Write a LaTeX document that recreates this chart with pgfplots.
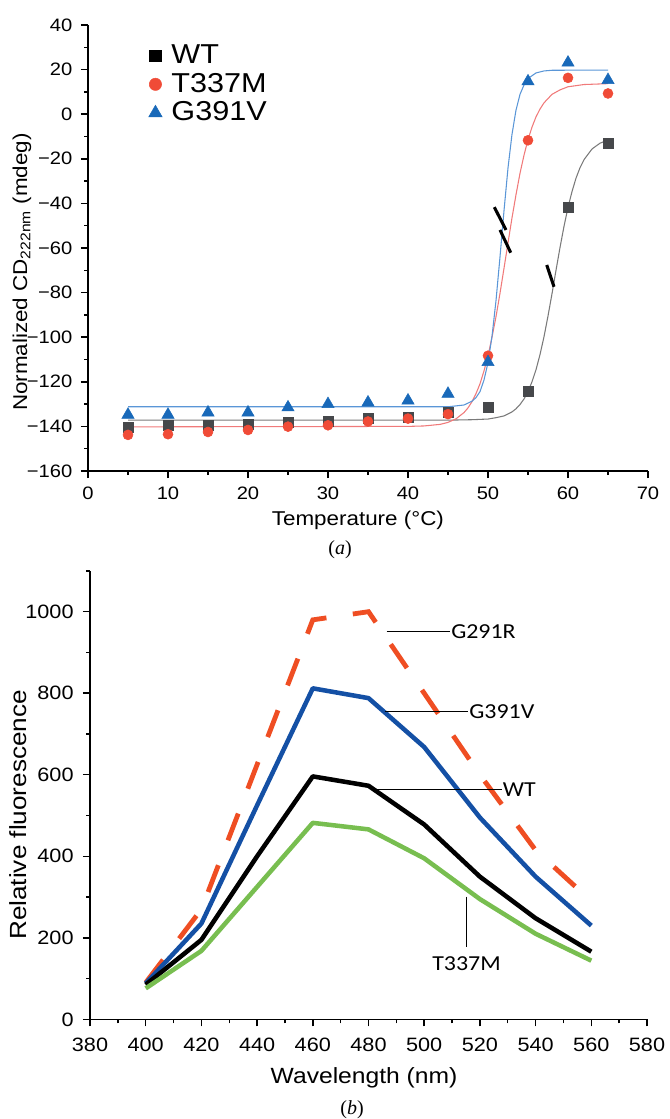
\documentclass[border=0pt]{standalone}
\usepackage{fontspec}
\setmainfont{Liberation Sans}[FakeStretch=1.12]
\newfontfamily\calibri{Carlito}[FakeStretch=1.12]
\newfontfamily\capserif{Liberation Serif}
\usepackage{pgfplots}
\pgfplotsset{compat=1.18}

\definecolor{wtmark}{HTML}{46484B}
\definecolor{wtline}{HTML}{7A7A7A}
\definecolor{tmark}{HTML}{F04B37}
\definecolor{tline}{HTML}{F07A7A}
\definecolor{gmark}{HTML}{1969B9}
\definecolor{gline}{HTML}{5A96D7}
\definecolor{fRed}{HTML}{EF4E23}
\definecolor{fBlue}{HTML}{1450A5}
\definecolor{fGreen}{HTML}{78BE50}

\pgfplotsset{
  panel/.style={
    scale only axis,
    axis lines=left,
    axis line style={-, line width=1.1pt},
    every tick/.style={black, line width=1.1pt},
    tick align=outside,
    major tick length=5.3pt,
    minor tick length=3pt,
    minor x tick num=1, minor y tick num=1,
    /pgf/number format/assume math mode=true,
    /pgf/number format/1000 sep={},
  },
}

\begin{document}
\begin{tikzpicture}
\useasboundingbox (0,0) rectangle (501.75pt,-839.25pt);

% ---------------- (a) CD melting curves ----------------
\begin{axis}[panel,
  at={(66pt,-353.25pt)}, anchor=south west,
  width=420pt, height=334.5pt,
  xmin=0, xmax=70, ymin=-160, ymax=40,
  xtick={0,10,...,70},
  ytick={-160,-140,...,40},
  yticklabels={−160,−140,−120,−100,−80,−60,−40,−20,0,20,40},
  tick label style={font=\fontsize{13.5}{15}\selectfont},
  xticklabel style={yshift=-3pt},
  yticklabel style={xshift=-3pt},
  xlabel={Temperature (°C)},
  ylabel={Normalized CD\textsubscript{222nm} (mdeg)},
  label style={font=\fontsize{15}{18}\selectfont},
  xlabel style={at={(axis description cs:0.482,-0.11)}, anchor=center},
  ylabel style={at={(axis description cs:-0.118,0.446)}, anchor=center},
  legend style={draw=none, fill=none, inner sep=0pt,
    at={(axis description cs:0.108,0.958)}, anchor=north west,
    font=\fontsize{20.5}{24}\selectfont,
    nodes={inner sep=0pt, text height=14.5pt, text depth=3pt},
    row sep=4pt, column sep=7pt},
  legend cell align=left,
  clip=false,
]
% fitted curves
\addplot[wtline, line width=0.8pt, forget plot] coordinates {
 (5,-137.2) (45,-137.2) (48,-137.0) (50,-136.7) (51,-136.1) (52,-135.3) (53,-133.5) (53.5,-132.1) (54,-130.2)
 (54.5,-127.7) (55,-124.4) (55.5,-120.0) (56,-114.6) (56.5,-107.8) (57,-99.8) (57.5,-90.5) (58,-80.5) (58.5,-70.0)
 (59,-59.8) (59.5,-50.3) (60,-41.8) (60.5,-34.7) (61,-28.7) (61.5,-24.0) (62,-20.4) (63,-15.6) (64,-13.0) (65,-11.6)};
\addplot[tline, line width=0.8pt, forget plot] coordinates {
 (5,-140.2) (40,-140.0) (42,-139.8) (44,-139.1) (45,-138.2) (46,-136.6) (47,-133.8)
 (47.5,-131.7) (48,-128.9) (48.5,-125.3) (49,-120.9) (49.5,-115.1) (50,-108.4) (50.5,-100.0) (51,-90.8) (51.5,-80.3) (52,-69.1)
 (52.5,-57.7) (53,-46.5) (53.5,-36.1) (54,-26.5) (54.5,-18.4) (55,-11.4) (55.5,-5.8) (56,-1.2) (56.5,2.3) (57,5.1)
 (58,8.9) (59,10.9) (60,12.3) (62,13.3) (65,13.7)};
\addplot[gline, line width=0.8pt, forget plot] coordinates {
 (5,-131.2) (45,-131.2) (47,-130.4) (48,-128.7) (48.5,-127.1) (49,-124.4) (49.5,-119.2) (50,-111.4)
 (50.5,-99.6) (51,-83.6) (51.5,-64.0) (52,-43.3) (52.5,-24.1) (53,-9.0)
 (53.5,1.8) (54,8.9) (54.5,13.1) (55,16.0) (56,18.5) (57,19.4) (58,19.7) (65,19.8)};
% measured points
\addplot[only marks, mark=square*, mark size=3.75pt, wtmark, forget plot] coordinates {
 (5,-140.5) (10,-139.6) (15,-139.3) (20,-139.0) (25,-138.3) (30,-137.5)
 (35,-136.5) (40,-136.0) (45,-133.8) (50,-131.2) (55,-124.4) (60,-41.7) (65,-13.2)};
\addplot[only marks, mark=*, mark size=3.75pt, tmark, forget plot] coordinates {
 (5,-143.8) (10,-143.5) (15,-142.5) (20,-141.6) (25,-140.1) (30,-139.5)
 (35,-137.8) (40,-136.5) (45,-134.5) (50,-108.3) (55,-11.7) (60,16.3) (65,9.3)};
\addplot[only marks, mark=triangle*, mark size=5.3pt, gmark, forget plot] coordinates {
 (5,-134.8) (10,-134.8) (15,-133.8) (20,-133.8) (25,-131.5) (30,-130.0)
 (35,-129.3) (40,-128.4) (45,-125.4) (50,-111.2) (55,14.7) (60,23.1) (65,15.3)};
% break marks
\draw[line width=2.3pt] (axis cs:50.79,-41.7) -- (axis cs:52.25,-51.9);
\draw[line width=2.3pt] (axis cs:51.5,-51.9) -- (axis cs:52.84,-62.1);
\draw[line width=2.3pt] (axis cs:57.34,-67.6) -- (axis cs:58.25,-77.4);
% legend
\addlegendimage{only marks, mark=square*, mark size=4.4pt, black}
\addlegendentry{WT}
\addlegendimage{only marks, mark=*, mark size=4.6pt, tmark}
\addlegendentry{T337M}
\addlegendimage{only marks, mark=triangle*, mark size=5.8pt, gmark}
\addlegendentry{G391V}
\end{axis}

% ---------------- (b) fluorescence spectra ----------------
\begin{axis}[panel,
  at={(67.5pt,-764.5pt)}, anchor=south west,
  width=417.75pt, height=336.3pt,
  xmin=380, xmax=580, ymin=0, ymax=1100,
  xtick={380,400,...,580},
  ytick={0,200,...,1000},
  extra y ticks={1100}, extra y tick labels={},
  extra y tick style={major tick length=3pt},
  tick label style={font=\fontsize{14.5}{16}\selectfont},
  xticklabel style={yshift=-5pt},
  yticklabel style={xshift=-3.5pt},
  xlabel={Wavelength (nm)},
  ylabel={Relative fluorescence},
  label style={font=\fontsize{16.5}{19}\selectfont},
  ylabel style={font=\fontsize{17.5}{20}\selectfont},
  xlabel style={at={(axis description cs:0.492,-0.131)}, anchor=center},
  ylabel style={at={(axis description cs:-0.129,0.456)}, anchor=center},
  clip=false,
]
\addplot[fRed, line width=3.6pt, dash pattern=on 21.5pt off 20pt] coordinates {
 (400,90) (420,270) (440,625) (460,980) (480,1000) (500,800) (520,600) (540,415) (560,290)};
\addplot[fBlue, line width=3.4pt, line join=round] coordinates {
 (400,88) (420,235) (440,525) (460,812) (480,788) (500,668) (520,495) (540,350) (560,230)};
\addplot[black, line width=3.4pt, line join=round] coordinates {
 (400,85) (420,195) (440,400) (460,596) (480,573) (500,478) (520,350) (540,248) (560,166)};
\addplot[fGreen, line width=3.4pt, line join=round] coordinates {
 (400,76) (420,168) (440,325) (460,482) (480,466) (500,395) (520,295) (540,210) (560,144)};
% labels
\draw[line width=0.8pt] (axis cs:486.5,951) -- (axis cs:509.3,951)
  node[anchor=west, inner sep=0.5pt, font=\calibri\fontsize{16}{18}\selectfont] {G291R};
\draw[line width=0.8pt] (axis cs:485.9,756) -- (axis cs:515.8,756)
  node[anchor=west, inner sep=0.5pt, font=\calibri\fontsize{16}{18}\selectfont] {G391V};
\draw[line width=0.8pt] (axis cs:481.7,563) -- (axis cs:527.8,563)
  node[anchor=west, inner sep=0.5pt, font=\calibri\fontsize{16}{18}\selectfont] {WT};
\draw[line width=0.8pt] (axis cs:515.3,301) -- (axis cs:515.3,178.6);
\node[anchor=north, inner sep=0pt, font=\calibri\fontsize{16}{18}\selectfont]
  at (axis cs:515.2,154) {T337M};
\end{axis}

\node[font=\capserif\fontsize{15}{17}\selectfont] at (255pt,-412.5pt) {(\textit{a})};
\node[font=\capserif\fontsize{15}{17}\selectfont] at (264pt,-832.5pt) {(\textit{b})};
\end{tikzpicture}
\end{document}
